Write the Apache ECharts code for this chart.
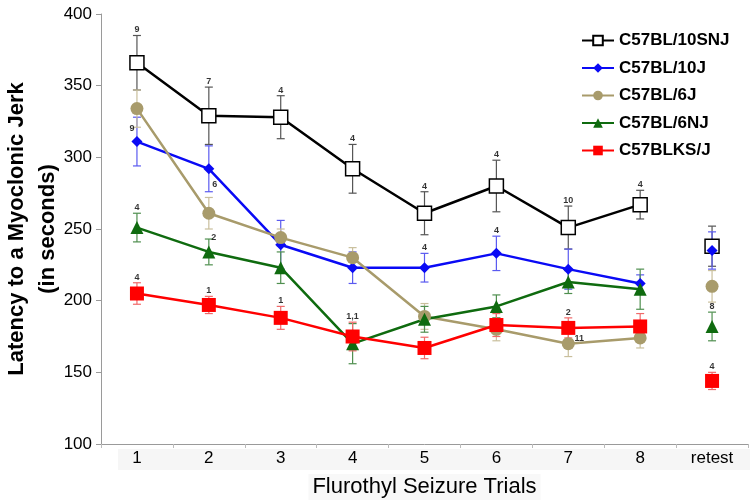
<!DOCTYPE html>
<html>
<head>
<meta charset="utf-8">
<script src="https://cdn.jsdelivr.net/npm/echarts@6/dist/echarts.min.js"></script>
<style>
  html, body { margin: 0; padding: 0; background: #fff; }
  #chart { width: 754px; height: 502px; }
</style>
</head>
<body>
<div id="chart"></div>
<script>
// trial categories, last one is the retest (not joined to the line)
const categories = ["1", "2", "3", "4", "5", "6", "7", "8", "retest"];

// means (seconds) and error bar half-lengths
const snjMean = [366, 329, 328, 292, 261, 280, 251, 267, 238];
const snjErr  = [19, 20, 15, 17, 15, 18, 15, 10, 14];
const b10jMean = [311, 292, 239, 223, 223, 233, 222, 212, 235];
const b10jErr  = [17, 16, 17, 11, 10, 12, 14, 6, 13];
const b6jMean = [334, 261, 244, 230, 189, 180, 170, 174, 210];
const b6jErr  = [13, 11, 6, 7, 9, 8, 9, 7, 11];
const b6njMean = [251, 234, 223, 170, 187, 196, 213, 208, 182];
const b6njErr  = [10, 9, 11, 14, 9, 8, 8, 14, 10];
const ksMean = [205, 197, 188, 175, 167, 183, 181, 182, 144];
const ksErr  = [7.5, 6, 8, 10, 7.5, 8, 7, 9, 6];

// n annotations
const snjN  = ["9", "7", "4", "4", "4", "4", "10", "4", null];
const b10jN = ["9", "6", null, null, "4", "4", null, null, null];
const b6jN  = [null, null, null, null, null, null, "11", null, null];
const b6njN = ["4", "2", null, null, null, null, null, null, "8"];
const ksN   = ["4", "1", "1", "1,1", null, null, "2", null, "4"];

const strains = [
    { name: "C57BL/10SNJ", mean: snjMean, err: snjErr, n: snjN, color: "#000000", errColor: "#555555",
      symbol: "rect", size: 14, fill: "#ffffff", border: 1.5 },
    { name: "C57BL/10J", mean: b10jMean, err: b10jErr, n: b10jN, color: "#0a0af5", errColor: "#5a5af0",
      symbol: "diamond", size: 11, fill: "#0a0af5", border: 0 },
    { name: "C57BL/6J", mean: b6jMean, err: b6jErr, n: b6jN, color: "#a89b6b", errColor: "#c9bf9c",
      symbol: "circle", size: 13, fill: "#a89b6b", border: 0 },
    { name: "C57BL/6NJ", mean: b6njMean, err: b6njErr, n: b6njN, color: "#0f6b0f", errColor: "#4f8f4f",
      symbol: "triangle", size: 13, fill: "#0f6b0f", border: 0 },
    { name: "C57BLKS/J", mean: ksMean, err: ksErr, n: ksN, color: "#ff0000", errColor: "#f06a6a",
      symbol: "rect", size: 14, fill: "#ff0000", border: 0 },
];

// a few annotations sit beside the point instead of above the bar
const labelTweaks = {
    "C57BL/10J-0": { at: "mean", offset: [-5, -8] },
    "C57BL/10J-1": { at: "low", offset: [6, -2] },
    "C57BL/6NJ-1": { at: "high", offset: [5, 4] },
    "C57BL/6J-6": { at: "mean", offset: [11, 0] },
};

const chart = echarts.init(document.getElementById("chart"));
const series = [];

strains.forEach(s => {
    const itemStyle = { color: s.fill, borderColor: s.color, borderWidth: s.border, opacity: 1 };
    // error bars
    series.push({
        type: "custom",
        name: s.name + "-err",
        z: 1,
        silent: true,
        data: s.mean.map((m, i) => [i, m - s.err[i], m + s.err[i]]),
        renderItem: function (params, api) {
            const lo = api.coord([api.value(0), api.value(1)]);
            const hi = api.coord([api.value(0), api.value(2)]);
            const cap = 4;
            const st = { stroke: s.errColor, lineWidth: 1.2 };
            return {
                type: "group",
                children: [
                    { type: "line", shape: { x1: lo[0], y1: lo[1], x2: hi[0], y2: hi[1] }, style: st },
                    { type: "line", shape: { x1: lo[0] - cap, y1: lo[1], x2: lo[0] + cap, y2: lo[1] }, style: st },
                    { type: "line", shape: { x1: hi[0] - cap, y1: hi[1], x2: hi[0] + cap, y2: hi[1] }, style: st },
                ],
            };
        },
    });
    // trials 1-8 joined
    series.push({
        type: "line",
        name: s.name,
        z: 3,
        data: s.mean.slice(0, 8),
        symbol: s.symbol,
        symbolSize: s.size,
        lineStyle: { color: s.color, width: 2.5 },
        itemStyle: itemStyle,
        emphasis: { disabled: true },
    });
    // retest point on its own
    series.push({
        type: "scatter",
        name: s.name + "-retest",
        z: 3,
        data: [[8, s.mean[8]]],
        symbol: s.symbol,
        symbolSize: s.size,
        itemStyle: itemStyle,
        emphasis: { disabled: true },
    });
    // n labels
    const labData = [];
    s.n.forEach((txt, i) => {
        if (!txt) return;
        const tw = labelTweaks[s.name + "-" + i];
        let y = s.mean[i] + s.err[i];
        let offset = [0, 0];
        if (tw) {
            if (tw.at === "mean") y = s.mean[i];
            if (tw.at === "low") y = s.mean[i] - s.err[i];
            offset = tw.offset;
        }
        labData.push({ value: [i, y], name: txt, label: { offset: offset } });
    });
    series.push({
        type: "scatter",
        name: s.name + "-n",
        z: 4,
        silent: true,
        symbolSize: 0,
        data: labData,
        label: {
            show: true,
            position: "top",
            distance: 1,
            formatter: p => p.name,
            fontSize: 9,
            fontWeight: "bold",
            color: "#000",
            fontFamily: "Liberation Sans, Arial, sans-serif",
        },
    });
});

const option = {
    animation: false,
    backgroundColor: "#ffffff",
    textStyle: { fontFamily: "Liberation Sans, Arial, sans-serif" },
    grid: { left: 101, right: 6, top: 14, bottom: 58, containLabel: false, outerBoundsMode: "none" },
    graphic: [
        { type: "rect", left: 118, top: 449, shape: { width: 632, height: 21 }, style: { fill: "#f6f6f6" }, z: -1 },
    ],
    legend: {
        orient: "vertical",
        left: 576,
        top: 27,
        itemWidth: 32,
        itemHeight: 12,
        itemGap: 10.5,
        data: strains.map(s => s.name),
        textStyle: { fontSize: 17, fontWeight: "bold", color: "#000", fontFamily: "Liberation Sans, Arial, sans-serif" },
    },
    xAxis: {
        type: "category",
        data: categories,
        boundaryGap: true,
        name: "Flurothyl Seizure Trials",
        nameLocation: "middle",
        nameGap: 30,
        nameMoveOverlap: false,
        nameTextStyle: { fontSize: 22, color: "#000", backgroundColor: "#f8f8f8", padding: [2, 4] },
        axisLine: { lineStyle: { color: "#9a9a9a", width: 1 } },
        axisTick: { show: true, length: 4, lineStyle: { color: "#bbbbbb" } },
        axisLabel: { fontSize: 17, color: "#000", margin: 6 },
        splitLine: { show: false },
    },
    yAxis: {
        type: "value",
        min: 100,
        max: 400,
        interval: 50,
        name: "Latency to a Myoclonic Jerk\n(in seconds)",
        nameLocation: "middle",
        nameGap: 38,
        nameMoveOverlap: false,
        nameTextStyle: { fontSize: 22, fontWeight: "bold", color: "#000", lineHeight: 31 },
        axisLine: { show: true, lineStyle: { color: "#9a9a9a", width: 1 } },
        axisTick: { show: true, length: 5, lineStyle: { color: "#9a9a9a" } },
        axisLabel: { fontSize: 17, color: "#000", margin: 9 },
        splitLine: { show: false },
    },
    series: series,
};

chart.setOption(option);
</script>
</body>
</html>
